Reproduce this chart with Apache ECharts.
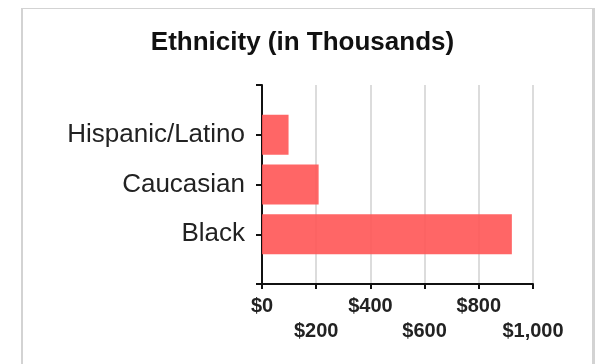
<!DOCTYPE html>
<html>
<head>
<meta charset="utf-8">
<title>Ethnicity (in Thousands)</title>
<script src="https://cdn.jsdelivr.net/npm/echarts@6/dist/echarts.min.js"></script>
<style>
  html, body { margin: 0; padding: 0; background: #fff; }
  #chart { width: 605px; height: 364px; }
</style>
</head>
<body>
<div id="chart"></div>
<script>
// categories bottom to top, padded with blank slots so ticks line up like the original
const categories = [' ', 'Black', 'Caucasian', 'Hispanic/Latino', '  '];
const values = ['-', 922, 209, 98, '-'];
const xTicks = [0, 200, 400, 600, 800, 1000];

const chart = echarts.init(document.getElementById('chart'));

function money(v) {
    return '$' + String(v).replace(/\B(?=(\d{3})+(?!\d))/g, ',');
}

chart.setOption({
    animation: false,
    textStyle: { fontFamily: 'Liberation Sans, Arial, sans-serif' },
    title: {
        text: 'Ethnicity (in Thousands)',
        left: 'center',
        top: 25,
        textStyle: { fontSize: 26, fontWeight: 'bold', color: '#111' }
    },
    graphic: [
        // panel frame
        { type: 'rect', shape: { x: 21, y: 8, width: 2, height: 360 }, style: { fill: '#d3d3d3' } },
        { type: 'rect', shape: { x: 21, y: 8, width: 574, height: 1 }, style: { fill: '#d3d3d3' } },
        { type: 'rect', shape: { x: 592, y: 8, width: 3, height: 360 }, style: { fill: '#d3d3d3' } }
    ],
    grid: { left: 262, top: 85, width: 271, height: 199 },
    xAxis: {
        type: 'value',
        min: xTicks[0],
        max: xTicks[xTicks.length - 1],
        interval: 200,
        axisLine: { show: true, lineStyle: { color: '#111', width: 2 } },
        axisTick: { show: true, length: 5, lineStyle: { color: '#111', width: 2 } },
        splitLine: { show: true, lineStyle: { color: '#dcdcdc', width: 2 } },
        axisLabel: {
            margin: 10,
            fontSize: 20,
            fontWeight: 'bold',
            color: '#222',
            lineHeight: 25,
            formatter: function (v, i) {
                return (i % 2 ? '\n' : '') + money(v);
            }
        }
    },
    yAxis: {
        type: 'category',
        data: categories,
        boundaryGap: false,
        axisLine: { show: true, lineStyle: { color: '#111', width: 2 } },
        axisTick: { show: true, interval: 0, length: 6, lineStyle: { color: '#111', width: 2 } },
        splitLine: { show: false },
        axisLabel: { interval: 0, margin: 17, fontSize: 26, color: '#222' }
    },
    series: [{
        type: 'bar',
        data: values,
        barWidth: 40,
        itemStyle: { color: 'rgba(255, 85, 85, 0.9)' }
    }]
});
</script>
</body>
</html>
